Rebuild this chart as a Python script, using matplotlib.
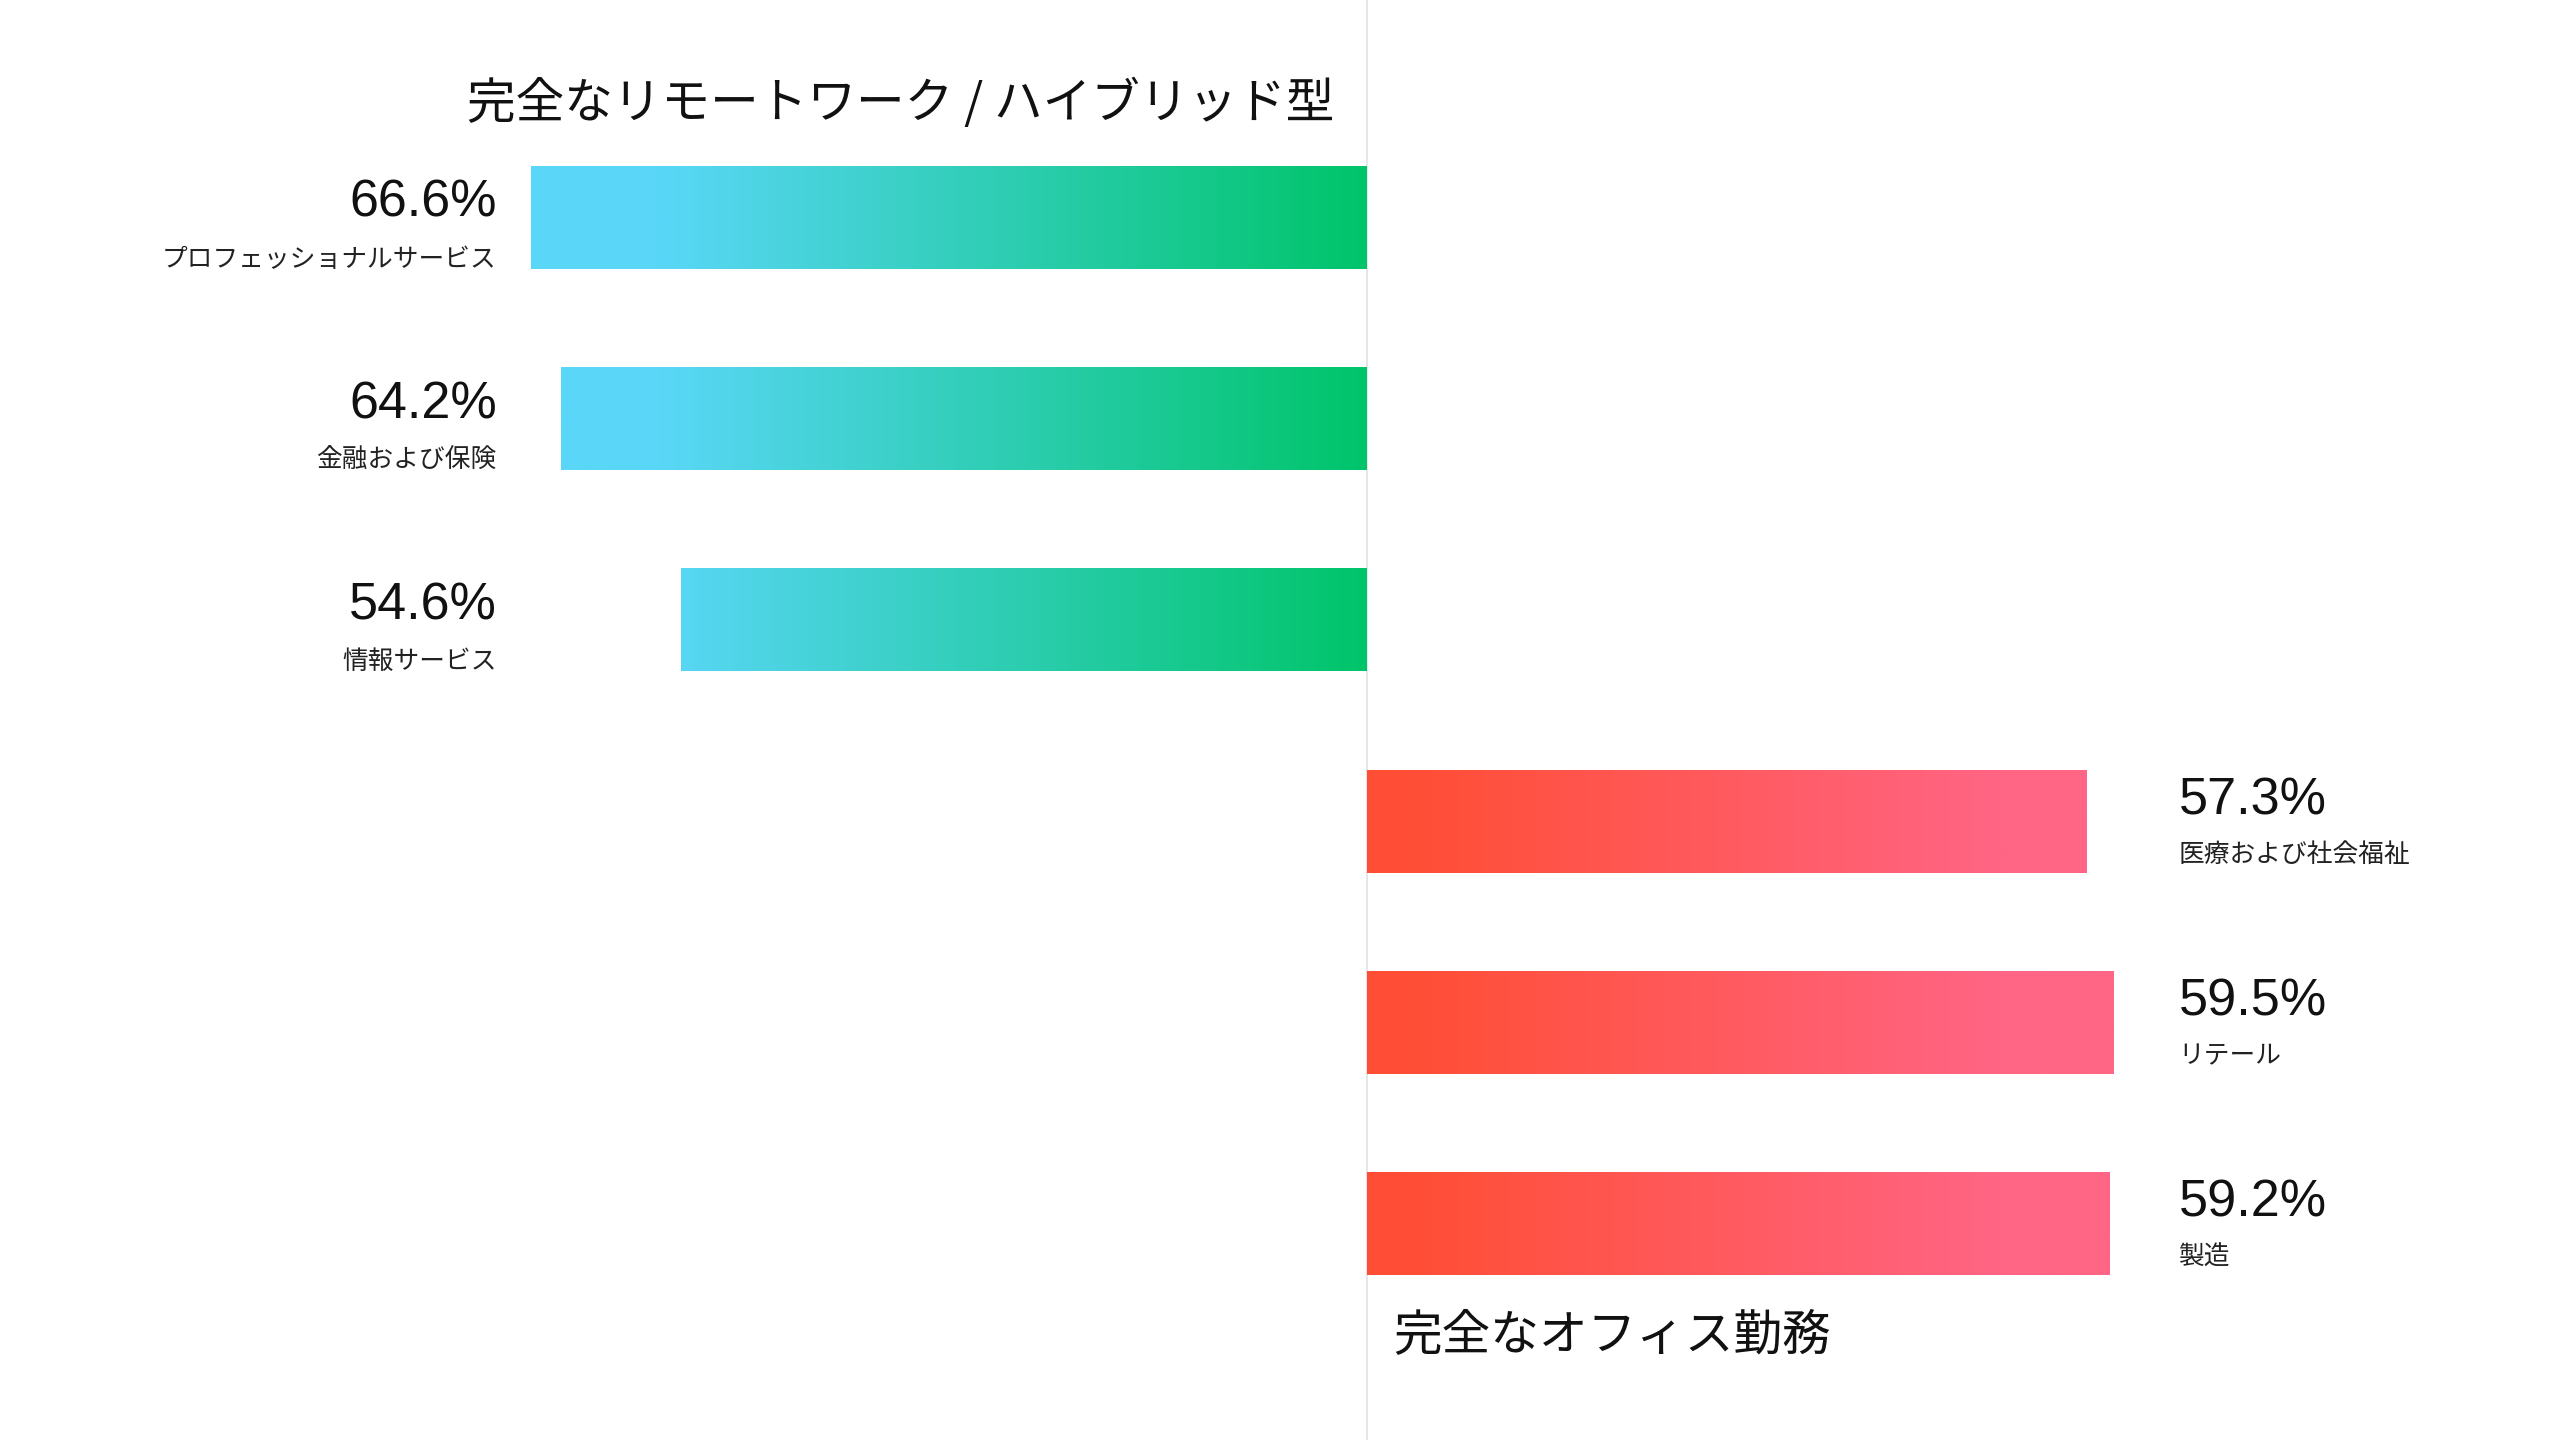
import numpy as np
import matplotlib
matplotlib.use("Agg")
import matplotlib.pyplot as plt
from matplotlib.colors import LinearSegmentedColormap, Normalize

plt.rcParams['font.family'] = ['Noto Sans CJK JP', 'DejaVu Sans']

# ---- data
remote_cats = ["プロフェッショナルサービス", "金融および保険", "情報サービス"]
remote_vals = [66.6, 64.2, 54.6]
office_cats = ["医療および社会福祉", "リテール", "製造"]
office_vals = [57.3, 59.5, 59.2]
remote_title = "完全なリモートワーク / ハイブリッド型"
office_title = "完全なオフィス勤務"

# ---- style
cmap_remote = LinearSegmentedColormap.from_list(
    "remote", [(0.0, "#5AD7F8"), (0.15, "#5AD7F8"), (1.0, "#00C46A")])
cmap_office = LinearSegmentedColormap.from_list(
    "office", [(0.0, "#FF4E35"), (0.05, "#FF4E35"), (0.85, "#FF6584"), (1.0, "#FF6584")])
num_font = ['Liberation Sans', 'DejaVu Sans']
cat_font = ['Noto Sans CJK JP', 'DejaVu Sans']

fig = plt.figure(figsize=(25.6, 14.4), dpi=100)
ax = fig.add_axes([0, 0, 1, 1])
ax.set_xlim(-108.9, 95.1)
ax.set_ylim(6.076, -1.081)
ax.axis("off")

ax.axvline(0, color="#e4e4e4", lw=1.3, zorder=0)

y_remote = np.arange(len(remote_vals))
y_office = np.arange(len(office_vals)) + len(remote_vals)
bar_h = 0.512


def grad_fill(bars, cmap, vmin, vmax):
    # gradient fixed along x, clipped to each bar
    norm = Normalize(vmin, vmax)
    for p in bars:
        x0, y0 = p.get_x(), p.get_y()
        w, h = p.get_width(), p.get_height()
        xs = np.linspace(min(x0, x0 + w), max(x0, x0 + w), 400)[None, :]
        im = ax.imshow(xs, cmap=cmap, norm=norm, aspect="auto",
                       extent=(xs.min(), xs.max(), y0 + h, y0),
                       interpolation="bilinear", zorder=2)
        im.set_clip_path(p)


bars_r = ax.barh(y_remote, -np.array(remote_vals), height=bar_h,
                 color="none", edgecolor="none")
bars_o = ax.barh(y_office, office_vals, height=bar_h,
                 color="none", edgecolor="none")
grad_fill(bars_r, cmap_remote, -66.6, 0)
grad_fill(bars_o, cmap_office, 0, 59.5)

# labels
trans = ax.get_yaxis_transform()
for y, v, c in zip(y_remote, remote_vals, remote_cats):
    ax.text(0.194, y - 0.07, f"{v:.1f}%", transform=trans, ha="right",
            va="center", fontsize=37.5, family=num_font, color="#111111")
    ax.text(0.194, y + 0.21, c, transform=trans, ha="right",
            va="center", fontsize=18.5, family=cat_font, color="#222222")
for y, v, c in zip(y_office, office_vals, office_cats):
    ax.text(0.851, y - 0.1, f"{v:.1f}%", transform=trans, ha="left",
            va="center", fontsize=37.5, family=num_font, color="#111111")
    ax.text(0.851, y + 0.17, c, transform=trans, ha="left",
            va="center", fontsize=18.5, family=cat_font, color="#222222")

fig.text(1334 / 2560, 1 - 104 / 1440, remote_title, ha="right", va="center",
         fontsize=35, family=cat_font, color="#111111")
fig.text(1393 / 2560, 1 - 1336 / 1440, office_title, ha="left", va="center",
         fontsize=35, family=cat_font, color="#111111")

fig.savefig("out.png", dpi=100, facecolor="white")
